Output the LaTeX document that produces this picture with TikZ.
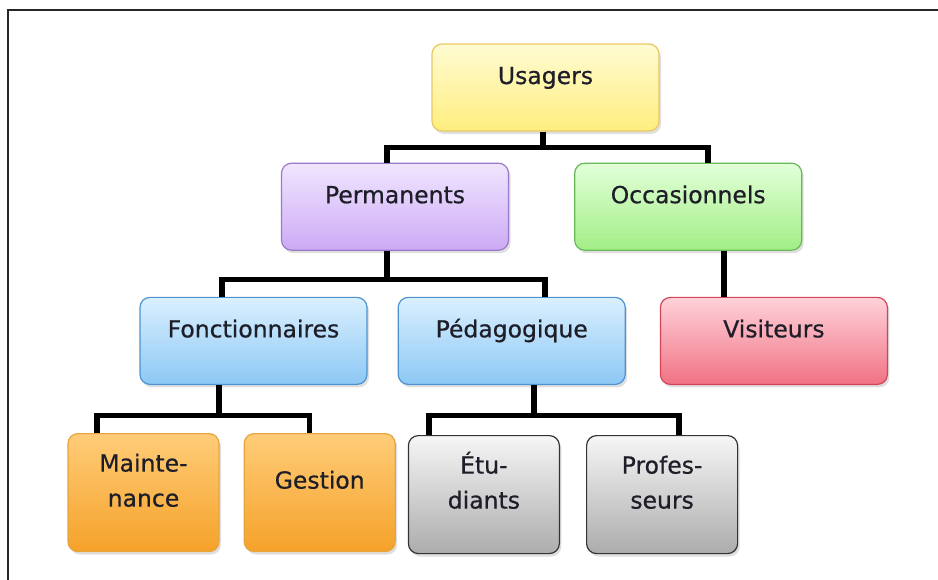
\documentclass[tikz,border=0pt]{standalone}
\usepackage{fontspec}
\setmainfont{DejaVu Sans}[FakeBold=0.6]
\usepackage{xcolor}
\usepackage{tikz}
\usetikzlibrary{positioning,shadows}
\definecolor{txtc}{HTML}{1E1E28}
\definecolor{yelT}{HTML}{FFFBD2}\definecolor{yelB}{HTML}{FFEE7E}\definecolor{yelD}{HTML}{E8C864}
\definecolor{purT}{HTML}{F0E6FF}\definecolor{purB}{HTML}{CDAAF5}\definecolor{purD}{HTML}{9A7AC8}
\definecolor{grnT}{HTML}{E2FFD8}\definecolor{grnB}{HTML}{A2EE86}\definecolor{grnD}{HTML}{66BB58}
\definecolor{bluT}{HTML}{DAF0FF}\definecolor{bluB}{HTML}{8CC8F4}\definecolor{bluD}{HTML}{4E92D2}
\definecolor{redT}{HTML}{FFD2DA}\definecolor{redB}{HTML}{F07284}\definecolor{redD}{HTML}{D24458}
\definecolor{oraT}{HTML}{FFCC78}\definecolor{oraB}{HTML}{F5A22A}\definecolor{oraD}{HTML}{E8A43C}
\definecolor{gryT}{HTML}{F6F6F6}\definecolor{gryB}{HTML}{ACACAC}\definecolor{gryD}{HTML}{333333}
\tikzset{
  midbox/.style={draw, rounded corners=10pt, line width=1.2pt, inner sep=0pt, minimum width=227pt, minimum height=87pt, text height=40pt, text depth=47pt, text=txtc, font=\fontsize{23.5}{35}\selectfont, drop shadow={shadow xshift=2pt, shadow yshift=-3pt, opacity=0.25}},
  smallbox/.style={midbox, minimum width=151pt, minimum height=118pt, text width=140pt, align=center, text height=38pt, text depth=80pt},
  yelbox/.style={top color=yelT, bottom color=yelB, draw=yelD},
  purbox/.style={top color=purT, bottom color=purB, draw=purD},
  grnbox/.style={top color=grnT, bottom color=grnB, draw=grnD},
  blubox/.style={top color=bluT, bottom color=bluB, draw=bluD},
  redbox/.style={top color=redT, bottom color=redB, draw=redD},
  orabox/.style={top color=oraT, bottom color=oraB, draw=oraD},
  grybox/.style={top color=gryT, bottom color=gryB, draw=gryD},
  conn/.style={line width=5.5pt, draw=black},
  framel/.style={line width=2pt, draw=black!85}
}
\begin{document}
\begin{tikzpicture}[x=1pt, y=1pt]
\useasboundingbox (0,0) rectangle (938,-580);
\draw[framel] (8,-580) -- (8,-10) -- (938,-10);
\node[midbox, yelbox] (usagers) at (545.5,-87.5) {Usagers};
\node[midbox, purbox, below=31pt of usagers, xshift=-150.5pt] (perm) {Permanents};
\node[midbox, grnbox, right=65pt of perm] (occ) {Occasionnels};
\node[midbox, blubox, below=46pt of perm, xshift=-141.5pt] (fonct) {Fonctionnaires};
\node[midbox, blubox, right=30pt of fonct] (peda) {Pédagogique};
\node[midbox, redbox, right=34pt of peda] (visit) {Visiteurs};
\node[smallbox, orabox, below=48pt of fonct, xshift=-110pt] (maint) {Mainte-\\nance};
\node[smallbox, orabox, right=24pt of maint, text height=55pt, text depth=63pt] (gest) {Gestion};
\node[smallbox, grybox, right=12pt of gest, yshift=-2pt] (etud) {Étu-\\diants};
\node[smallbox, grybox, right=26pt of etud] (prof) {Profes-\\seurs};
% tree links
\draw[conn] ([xshift=-2.5pt]usagers.south) -- ++(0,-16) -| ([xshift=-8pt]perm.north);
\draw[conn] ([xshift=-2.5pt]usagers.south) -- ++(0,-16) -| ([xshift=20pt]occ.north);
\draw[conn] ([xshift=-8pt]perm.south) -- ++(0,-28.5) -| ([xshift=-31.5pt]fonct.north);
\draw[conn] ([xshift=-8pt]perm.south) -- ++(0,-28.5) -| ([xshift=33.5pt]peda.north);
\draw[conn] ([xshift=36pt]occ.south) -- ([xshift=36pt]occ.south |- visit.north);
\draw[conn] ([xshift=-34.5pt]fonct.south) -- ++(0,-30.5) -| ([xshift=-46.5pt]maint.north);
\draw[conn] ([xshift=-34.5pt]fonct.south) -- ++(0,-30.5) -| ([xshift=-10pt]gest.north);
\draw[conn] ([xshift=22.5pt]peda.south) -- ++(0,-30.5) -| ([xshift=-55pt]etud.north);
\draw[conn] ([xshift=22.5pt]peda.south) -- ++(0,-30.5) -| ([xshift=17pt]prof.north);
\end{tikzpicture}
\end{document}
